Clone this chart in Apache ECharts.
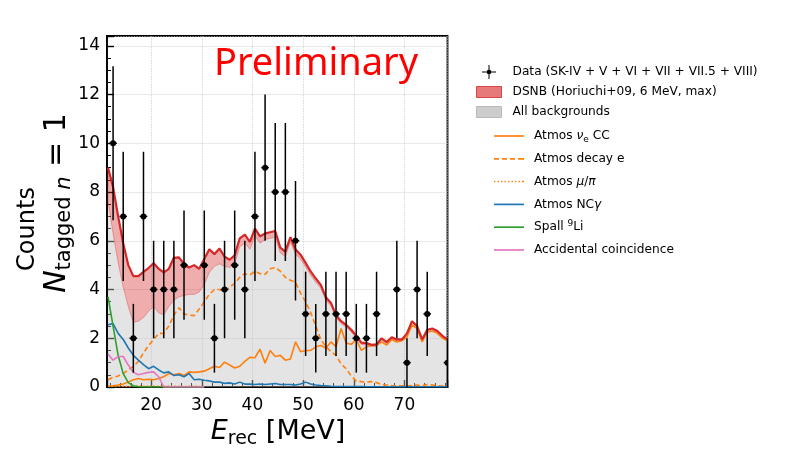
<!DOCTYPE html>
<html>
<head>
<meta charset="utf-8">
<script src="https://cdn.jsdelivr.net/npm/echarts@6/dist/echarts.min.js"></script>
<style>
html, body { margin: 0; padding: 0; background: #fff; }
#chart { width: 800px; height: 456px; }
</style>
</head>
<body>
<div id="chart"></div>
<script>
// fine energy grid used by the MC curves (MeV)
const energyGrid = [11.5, 12.5, 13.5, 14.5, 15.5, 16.5, 17.5, 18.5, 19.5, 20.5,
    21.5, 22.5, 23.5, 24.5, 25.5, 26.5, 27.5, 28.5, 29.5, 30.5,
    31.5, 32.5, 33.5, 34.5, 35.5, 36.5, 37.5, 38.5, 39.5, 40.5,
    41.5, 42.5, 43.5, 44.5, 45.5, 46.5, 47.5, 48.5, 49.5, 50.5,
    51.5, 52.5, 53.5, 54.5, 55.5, 56.5, 57.5, 58.5, 59.5, 60.5,
    61.5, 62.5, 63.5, 64.5, 65.5, 66.5, 67.5, 68.5, 69.5, 70.5,
    71.5, 72.5, 73.5, 74.5, 75.5, 76.5, 77.5, 78.5];

// top of the grey area
const allBackgrounds = [7.6, 6.3, 5.1, 4.1, 3.3, 2.65, 2.7, 2.85, 3.1, 3.3,
    3.05, 2.95, 3.3, 3.55, 3.7, 3.75, 3.8, 3.8, 3.9, 4.2,
    4.7, 4.95, 5.05, 4.95, 4.9, 5.05, 5.75, 5.9, 5.65, 6.2,
    5.9, 6.05, 6.1, 6.15, 5.5, 5.35, 5.95, 5.45, 5.25, 4.92,
    4.58, 4.3, 4.05, 3.55, 3.33, 2.84, 2.6, 2.46, 2.26, 2.02,
    1.74, 1.73, 1.66, 1.68, 1.93, 1.78, 1.98, 1.89, 1.89, 2.15,
    2.65, 2.45, 1.9, 2.3, 2.35, 2.25, 2.05, 1.9];

// red line: backgrounds + DSNB (max)
const bkgPlusDsnb = [9.0, 8.2, 7.0, 5.9, 5.0, 4.55, 4.55, 4.72, 4.88, 5.08,
    4.85, 4.7, 4.85, 5.3, 5.32, 5.05, 4.9, 5.0, 4.85, 5.25,
    5.65, 5.45, 5.68, 5.35, 5.22, 5.4, 6.1, 6.25, 5.95, 6.5,
    6.18, 6.3, 6.35, 6.4, 5.72, 5.55, 6.15, 5.65, 5.43, 5.09,
    4.74, 4.45, 4.19, 3.68, 3.45, 2.95, 2.7, 2.55, 2.35, 2.1,
    1.82, 1.8, 1.73, 1.75, 2.0, 1.84, 2.04, 1.95, 1.95, 2.2,
    2.7, 2.5, 1.95, 2.35, 2.4, 2.3, 2.1, 1.95];

const atmosNueCC = [0.03, 0.05, 0.08, 0.12, 0.2, 0.3, 0.35, 0.3, 0.32, 0.3,
    0.35, 0.42, 0.55, 0.5, 0.55, 0.48, 0.62, 0.6, 0.62, 0.65,
    0.75, 0.85, 0.8, 1.02, 0.9, 0.78, 0.85, 1.05, 1.22, 1.2,
    1.55, 0.98, 1.5, 1.25, 1.3, 1.1, 1.15, 1.85, 1.45, 1.5,
    1.5, 1.65, 1.7, 1.6, 1.85, 1.65, 2.4, 1.8, 1.75, 1.95,
    1.5, 1.65, 1.7, 1.7, 1.85, 1.72, 1.95, 1.85, 1.9, 2.05,
    2.55, 2.4, 1.85, 2.25, 2.3, 2.2, 2.0, 1.9];

const atmosDecayE = [0.3, 0.4, 0.45, 0.55, 0.7, 0.84, 1.05, 1.4, 1.7, 1.95,
    2.2, 2.2, 2.5, 2.95, 3.25, 3.0, 2.95, 2.93, 3.2, 3.5,
    3.8, 4.0, 4.0, 3.92, 4.1, 4.25, 4.5, 4.65, 4.6, 4.75,
    4.65, 4.62, 4.85, 4.9, 4.75, 4.5, 4.38, 4.3, 3.85, 3.5,
    3.05, 2.5, 1.95, 1.65, 1.45, 1.3, 0.95, 0.75, 0.45, 0.25,
    0.22, 0.2, 0.22, 0.18, 0.1, 0.08, 0.06, 0.05, 0.05, 0.04,
    0.06, 0.08, 0.05, 0.1, 0.08, 0.05, 0.04, 0.03];

const atmosMuPi = [0.02, 0.02, 0.03, 0.03, 0.02, 0.03, 0.04, 0.03, 0.03, 0.04,
    0.03, 0.03, 0.04, 0.03, 0.03, 0.02, 0.03, 0.03, 0.02, 0.02];

const atmosNCgamma = [2.55, 2.6, 2.2, 1.95, 1.6, 1.3, 1.1, 0.92, 0.75, 0.85,
    0.7, 0.58, 0.62, 0.47, 0.5, 0.42, 0.55, 0.3, 0.32, 0.28,
    0.25, 0.2, 0.2, 0.15, 0.17, 0.12, 0.2, 0.12, 0.12, 0.1,
    0.12, 0.1, 0.12, 0.14, 0.1, 0.1, 0.1, 0.08, 0.12, 0.2,
    0.12, 0.08, 0.06, 0.05, 0.03, 0.02, 0.02, 0.02, 0.02, 0.02,
    0.02, 0.01, 0.01, 0.01, 0.01, 0.01, 0.01, 0.01, 0.01, 0.01,
    0.01, 0.01, 0.01, 0.01, 0.01, 0.01, 0.01, 0.01];

const spallLi9 = [3.7, 2.5, 1.3, 0.55, 0.18, 0.05, 0.01, 0, 0, 0,
    0, 0, 0, 0, 0, 0, 0, 0, 0, 0];

const accidental = [1.35, 1.1, 1.25, 1.25, 0.9, 0.6, 0.5, 0.55, 0.6, 0.62,
    0.42, 0, 0, 0, 0, 0, 0, 0, 0, 0];

// observed events, 2 MeV bins
const binCenters = [12.5, 14.5, 16.5, 18.5, 20.5, 22.5, 24.5, 26.5, 28.5, 30.5,
    32.5, 34.5, 36.5, 38.5, 40.5, 42.5, 44.5, 46.5, 48.5, 50.5,
    52.5, 54.5, 56.5, 58.5, 60.5, 62.5, 64.5, 66.5, 68.5, 70.5,
    72.5, 74.5, 76.5, 78.5];
const counts = [10, 7, 2, 7, 4, 4, 4, 5, null, 5,
    2, 4, 5, 4, 7, 9, 8, 8, 6, 3,
    2, 3, 3, 3, 2, 2, 3, null, 4, 1,
    4, 3, null, 1];
const countErrors = [3.16, 2.65, 1.41, 2.65, 2, 2, 2, 2.24, null, 2.24,
    1.41, 2, 2.24, 2, 2.65, 3, 2.83, 2.83, 2.45, 1.73,
    1.41, 1.73, 1.73, 1.73, 1.41, 1.41, 1.73, null, 2, 1,
    2, 1.73, null, 1];

const FONT = 'DejaVu Sans';
const ORANGE = '#ff7f0e';
const RED = '#d62728';

const DATA_NAME = 'Data (SK-IV + V + VI + VII + VII.5 + VIII)';
const DSNB_NAME = 'DSNB (Horiuchi+09, 6 MeV, max)';
const BKG_NAME = 'All backgrounds';

const legendLabels = {
    'Atmos nue CC': 'Atmos {it|ν}{sub|e} CC',
    'Atmos decay e': 'Atmos decay e',
    'Atmos mu/pi': 'Atmos {it|μ}/{it|π}',
    'Atmos NCgamma': 'Atmos NC{it|γ}',
    'Spall 9Li': 'Spall {sup|9}Li',
    'Accidental coincidence': 'Accidental coincidence'
};

function pairs(xs, ys) {
    return ys.map((y, i) => [xs[i], y]);
}

let points = [];
binCenters.forEach((x, i) => {
    if (counts[i] != null) points.push([x, counts[i], countErrors[i]]);
});

function componentLine(name, values, color, type) {
    return {
        name: name,
        type: 'line',
        data: pairs(energyGrid, values),
        symbol: 'none',
        z: 3,
        lineStyle: { color: color, width: 1.6, type: type || 'solid' },
        itemStyle: { color: color }
    };
}

// legend icons
const solidIcon = 'path://M0,0 L30,0 L30,1.7 L0,1.7 Z';
const dashedIcon = 'path://M0,0 L5,0 L5,1.7 L0,1.7 Z M8,0 L13,0 L13,1.7 L8,1.7 Z M16,0 L21,0 L21,1.7 L16,1.7 Z M24,0 L30,0 L30,1.7 L24,1.7 Z';
const dottedIcon = 'path://M0,0 L1.4,0 L1.4,1.5 L0,1.5 Z M3.5,0 L4.9,0 L4.9,1.5 L3.5,1.5 Z M7,0 L8.4,0 L8.4,1.5 L7,1.5 Z ' +
    'M10.5,0 L11.9,0 L11.9,1.5 L10.5,1.5 Z M14,0 L15.4,0 L15.4,1.5 L14,1.5 Z M17.5,0 L18.9,0 L18.9,1.5 L17.5,1.5 Z ' +
    'M21,0 L22.4,0 L22.4,1.5 L21,1.5 Z M24.5,0 L25.9,0 L25.9,1.5 L24.5,1.5 Z M28,0 L30,0 L30,1.5 L28,1.5 Z';
const patchIcon = 'path://M0,0 L25,0 L25,11 L0,11 Z';
const crossIcon = 'path://M0,6.5 L14,6.5 L14,7.5 L0,7.5 Z M6.5,0 L7.5,0 L7.5,14 L6.5,14 Z ' +
    'M7,4.6 L8.7,5.3 L9.4,7 L8.7,8.7 L7,9.4 L5.3,8.7 L4.6,7 L5.3,5.3 Z';

let chart = echarts.init(document.getElementById('chart'));
chart.setOption({
    animation: false,
    grid: {
        left: 107,
        top: 36,
        width: 340.5,
        height: 351,
        show: true,
        borderColor: '#000',
        borderWidth: 1.8,
        backgroundColor: 'transparent'
    },
    xAxis: {
        type: 'value',
        min: 11.3,
        max: 78.5,
        axisLine: { show: true, lineStyle: { color: '#000', width: 1.8 } },
        axisTick: { show: true, inside: true, length: 7, lineStyle: { color: '#000', width: 1.4 } },
        minorTick: { show: true, splitNumber: 5, length: 4, lineStyle: { color: '#000', width: 1 } },
        axisLabel: { fontFamily: FONT, fontSize: 17, color: '#000', margin: 10, showMinLabel: false, showMaxLabel: false },
        splitLine: { show: true, lineStyle: { color: '#c8c8c8', type: 'dotted', width: 0.8 } }
    },
    yAxis: {
        type: 'value',
        min: 0,
        max: 14.4,
        interval: 2,
        axisLine: { show: true, lineStyle: { color: '#000', width: 1.8 } },
        axisTick: { show: true, inside: true, length: 7, lineStyle: { color: '#000', width: 1.4 } },
        minorTick: { show: true, splitNumber: 4, length: 4, lineStyle: { color: '#000', width: 1 } },
        axisLabel: { fontFamily: FONT, fontSize: 17, color: '#000', margin: 7, showMaxLabel: false },
        splitLine: { show: true, lineStyle: { color: '#c8c8c8', type: 'dotted', width: 0.8 } }
    },
    legend: [
        {
            orient: 'vertical',
            left: 476,
            top: 64,
            padding: 0,
            itemWidth: 25,
            itemHeight: 14,
            itemGap: 4,
            selectedMode: false,
            textStyle: { fontFamily: FONT, fontSize: 12.2, color: '#000', padding: [0, 0, 0, 6], lineHeight: 16 },
            data: [
                { name: DATA_NAME, icon: crossIcon, itemStyle: { color: '#000' } },
                { name: DSNB_NAME, icon: patchIcon, itemStyle: { color: 'rgba(214,39,40,0.62)', borderColor: 'rgba(214,39,40,0.8)', borderWidth: 1 } },
                { name: BKG_NAME, icon: patchIcon, itemStyle: { color: '#cdcdcd', borderColor: '#b8b8b8', borderWidth: 1 } }
            ]
        },
        {
            orient: 'vertical',
            left: 494,
            top: 128,
            padding: 0,
            itemWidth: 30,
            itemHeight: 10,
            itemGap: 6.8,
            selectedMode: false,
            formatter: name => legendLabels[name],
            textStyle: {
                fontFamily: FONT, fontSize: 12.2, color: '#000', padding: [0, 0, 0, 5], lineHeight: 16,
                rich: {
                    it: { fontFamily: FONT, fontSize: 12.2, fontStyle: 'italic', lineHeight: 16, verticalAlign: 'middle' },
                    sub: { fontFamily: FONT, fontSize: 9, lineHeight: 9, verticalAlign: 'bottom' },
                    sup: { fontFamily: FONT, fontSize: 9, lineHeight: 9, verticalAlign: 'top' }
                }
            },
            data: [
                { name: 'Atmos nue CC', icon: solidIcon },
                { name: 'Atmos decay e', icon: dashedIcon },
                { name: 'Atmos mu/pi', icon: dottedIcon },
                { name: 'Atmos NCgamma', icon: solidIcon },
                { name: 'Spall 9Li', icon: solidIcon },
                { name: 'Accidental coincidence', icon: solidIcon }
            ]
        }
    ],
    graphic: [
        {
            type: 'text', x: 316, y: 64, z: 100,
            style: { text: 'Preliminary', fill: '#ff0000', fontFamily: 'Noto Sans', fontSize: 38, align: 'center', verticalAlign: 'middle' }
        },
        {
            type: 'text', x: 278, y: 432,
            style: {
                text: '{e|E}{s|rec}{t| [MeV]}', align: 'center', verticalAlign: 'middle',
                rich: {
                    e: { fontFamily: FONT, fontSize: 27, fontStyle: 'italic', lineHeight: 34, verticalAlign: 'middle', fill: '#000' },
                    s: { fontFamily: FONT, fontSize: 19, lineHeight: 19, verticalAlign: 'bottom', fill: '#000' },
                    t: { fontFamily: FONT, fontSize: 27, lineHeight: 34, verticalAlign: 'middle', fill: '#000' }
                }
            }
        },
        {
            type: 'text', x: 28, y: 229, rotation: Math.PI / 2,
            style: { text: 'Counts', fontFamily: FONT, fontSize: 24, fill: '#000', align: 'center', verticalAlign: 'middle' }
        },
        {
            type: 'text', x: 57, y: 203, rotation: Math.PI / 2,
            style: {
                text: '{n|N}{s|tagged }{si|n}{t| = 1}', align: 'center', verticalAlign: 'middle',
                rich: {
                    n: { fontFamily: FONT, fontSize: 30, fontStyle: 'italic', lineHeight: 36, verticalAlign: 'middle', fill: '#000' },
                    s: { fontFamily: FONT, fontSize: 21, lineHeight: 21, verticalAlign: 'bottom', fill: '#000' },
                    si: { fontFamily: FONT, fontSize: 21, fontStyle: 'italic', lineHeight: 21, verticalAlign: 'bottom', fill: '#000' },
                    t: { fontFamily: FONT, fontSize: 30, lineHeight: 36, verticalAlign: 'middle', fill: '#000' }
                }
            }
        }
    ],
    series: [
        {
            name: BKG_NAME,
            type: 'line',
            data: pairs(energyGrid, allBackgrounds),
            symbol: 'none',
            z: 1,
            lineStyle: { width: 0 },
            itemStyle: { color: '#cdcdcd' },
            areaStyle: { color: 'rgba(190,190,190,0.42)', opacity: 1 }
        },
        {
            // red band between backgrounds and backgrounds + DSNB
            name: 'dsnb band',
            type: 'custom',
            z: 2,
            data: [0],
            renderItem: function (params, api) {
                let poly = [];
                energyGrid.forEach((x, i) => poly.push(api.coord([x, bkgPlusDsnb[i]])));
                for (let i = energyGrid.length - 1; i >= 0; i--) poly.push(api.coord([energyGrid[i], allBackgrounds[i]]));
                return {
                    type: 'polygon',
                    shape: { points: poly },
                    style: { fill: 'rgba(214,39,40,0.38)', stroke: 'rgba(214,39,40,0.45)', lineWidth: 0.8 }
                };
            }
        },
        componentLine('Atmos nue CC', atmosNueCC, ORANGE),
        componentLine('Atmos decay e', atmosDecayE, ORANGE, [5, 3]),
        componentLine('Atmos mu/pi', atmosMuPi, ORANGE, [1.5, 2]),
        componentLine('Atmos NCgamma', atmosNCgamma, '#1f77b4'),
        componentLine('Spall 9Li', spallLi9, '#2ca02c'),
        componentLine('Accidental coincidence', accidental, '#e377c2'),
        {
            name: DSNB_NAME,
            type: 'line',
            data: pairs(energyGrid, bkgPlusDsnb),
            symbol: 'none',
            z: 4,
            lineStyle: { color: RED, width: 2.2 },
            itemStyle: { color: RED }
        },
        {
            name: DATA_NAME,
            type: 'custom',
            z: 6,
            clip: true,
            data: points,
            itemStyle: { color: '#000' },
            renderItem: function (params, api) {
                const x = api.value(0), y = api.value(1), err = api.value(2);
                const c = api.coord([x, y]);
                const top = api.coord([x, y + err]);
                const bot = api.coord([x, y - err]);
                const left = api.coord([x - 0.75, y]);
                const right = api.coord([x + 0.75, y]);
                const st = { stroke: '#000', lineWidth: 1.5 };
                return {
                    type: 'group',
                    children: [
                        { type: 'line', shape: { x1: c[0], y1: top[1], x2: c[0], y2: bot[1] }, style: st },
                        { type: 'line', shape: { x1: left[0], y1: c[1], x2: right[0], y2: c[1] }, style: st },
                        { type: 'circle', shape: { cx: c[0], cy: c[1], r: 3 }, style: { fill: '#000' } }
                    ]
                };
            }
        }
    ]
});
</script>
</body>
</html>
